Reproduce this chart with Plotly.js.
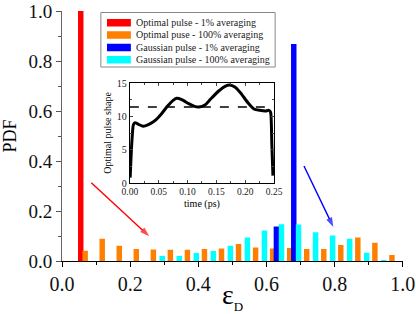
<!DOCTYPE html>
<html>
<head>
<meta charset="utf-8">
<script src="https://cdn.plot.ly/plotly-3.0.1.min.js"></script>
<style>html,body{margin:0;padding:0;background:#fff}#chart{width:416px;height:314px}</style>
</head>
<body>
<div id="chart"></div>
<script>
// ---- data ----
const optimal1X = [0.055];
const optimal1Y = [1.0];
const optimal100X = [0.068,0.118,0.168,0.218,0.268,0.318,0.368,0.418,0.468,0.518,0.568,0.618,0.668,0.718,0.768,0.818,0.868,0.918,0.968];
const optimal100Y = [0.041,0.089,0.061,0.048,0.046,0.045,0.045,0.048,0.050,0.068,0.054,0.050,0.052,0.048,0.048,0.064,0.094,0.073,0.024];
const gauss1X = [0.629,0.680];
const gauss1Y = [0.138,0.868];
const gauss100X = [0.294,0.344,0.394,0.444,0.494,0.544,0.594,0.644,0.694,0.744,0.794,0.844,0.894,0.944];
const gauss100Y = [0.020,0.020,0.032,0.040,0.061,0.094,0.122,0.147,0.146,0.115,0.102,0.089,0.033,0.004];
const seriesNames = ['Optimal pulse - 1% averaging','Optimal puse - 100% averaging','Gaussian pulse - 1% averaging','Gaussian pulse - 100% averaging'];
const seriesColors = ['#ff0000','#ff8000','#0000ff','#00ffff'];
const mainTicks = [0,0.2,0.4,0.6,0.8,1.0];
// inset: optimal pulse shape
const pulseT = [0.0005,0.003,0.006,0.009,0.015,0.023,0.033,0.044,0.055,0.065,0.075,0.081,0.09,0.102,0.112,0.12,0.13,0.14,0.154,0.165,0.173,0.182,0.192,0.205,0.215,0.225,0.235,0.241,0.244,0.246,0.248];
const pulseV = [0.8,5.5,8.7,9.05,8.8,8.5,8.8,9.4,10.4,11.5,12.4,12.7,12.5,11.9,11.5,11.4,11.7,12.6,13.8,14.5,14.7,14.4,13.5,12.0,11.1,10.9,10.8,10.9,10.6,6.0,1.1];
const gaussLevelT = [0,0.25];
const gaussLevelV = [11.4,11.4];
// arrows: tail -> head
const redArrowX = [0.086,0.256];
const redArrowY = [0.313,0.099];
const blueArrowX = [0.710,0.796];
const blueArrowY = [0.380,0.136];

const serif = 'Liberation Serif, Times New Roman, serif';
const barW = 0.016;
function arrowTrace(xs, ys, c){
  return {type:'scatter', mode:'lines+markers', x:xs, y:ys, xaxis:'x', yaxis:'y', showlegend:false,
    line:{color:c, width:1.4}, marker:{symbol:['circle','arrow'], size:[0,10], color:c, angleref:'previous', line:{width:0}}};
}
const traces = [
  {type:'bar', x:optimal1X, y:optimal1Y, name:seriesNames[0], marker:{color:seriesColors[0]}, width:barW, xaxis:'x', yaxis:'y'},
  {type:'bar', x:optimal100X, y:optimal100Y, name:seriesNames[1], marker:{color:seriesColors[1]}, width:barW, xaxis:'x', yaxis:'y'},
  {type:'bar', x:gauss1X, y:gauss1Y, name:seriesNames[2], marker:{color:seriesColors[2]}, width:barW, xaxis:'x', yaxis:'y'},
  {type:'bar', x:gauss100X, y:gauss100Y, name:seriesNames[3], marker:{color:seriesColors[3]}, width:barW, xaxis:'x', yaxis:'y'},
  arrowTrace(redArrowX, redArrowY, '#ff0000'),
  arrowTrace(blueArrowX, blueArrowY, '#0000ff'),
  {type:'scatter', mode:'lines', x:gaussLevelT, y:gaussLevelV, line:{color:'#000', width:1.5, dash:'dash'}, xaxis:'x3', yaxis:'y3', showlegend:false},
  {type:'scatter', mode:'lines', x:pulseT, y:pulseV, line:{color:'#000', width:3, shape:'spline', smoothing:0.5}, xaxis:'x3', yaxis:'y3', showlegend:false}
];

// custom legend
const L = {x0:0.114, x1:0.625, y0:0.776, y1:0.994};
const rowsY = [0.953, 0.904, 0.854, 0.805];
const shapes = [{type:'rect', xref:'paper', yref:'paper', x0:L.x0, x1:L.x1, y0:L.y0, y1:L.y1, line:{color:'#888', width:1}, fillcolor:'#fff', layer:'above'}];
const annotations = [];
seriesNames.forEach((n,i)=>{
  shapes.push({type:'rect', xref:'paper', yref:'paper', x0:0.132, x1:0.202, y0:rowsY[i]-0.015, y1:rowsY[i]+0.015, line:{width:0}, fillcolor:seriesColors[i], layer:'above'});
  annotations.push({xref:'paper', yref:'paper', x:0.211, y:rowsY[i], xanchor:'left', yanchor:'middle', text:n, showarrow:false, font:{family:serif, size:10, color:'#222'}});
});

const layout = {
  width:416, height:314,
  margin:{l:62, r:13, t:11, b:53},
  paper_bgcolor:'#fff', plot_bgcolor:'#fff',
  showlegend:false, barmode:'overlay',
  font:{family:serif, color:'#000'},
  xaxis:{range:[0,1.0005], tickvals:mainTicks, tickformat:'.1f', ticks:'outside', ticklen:5, tickcolor:'#000',
    ticklabeloverflow:'allow',
    minor:{dtick:0.1, ticks:'outside', ticklen:3, tickcolor:'#000'},
    showline:true, linecolor:'#000', linewidth:1, showgrid:false, zeroline:false,
    tickfont:{size:20, family:serif, color:'#111'},
    title:{text:'ε<span style="font-size:13px;baseline-shift:-7px">D</span>', font:{size:28, family:serif}, standoff:0}},
  yaxis:{range:[0,1.0005], tickvals:mainTicks, tickformat:'.1f', ticks:'outside', ticklen:5, tickcolor:'#555',
    ticklabeloverflow:'allow',
    minor:{dtick:0.1, ticks:'outside', ticklen:3, tickcolor:'#555'},
    showline:true, linecolor:'#666', linewidth:1, showgrid:false, zeroline:false,
    tickfont:{size:19, family:serif, color:'#111'},
    title:{text:'PDF', font:{size:18, family:serif}, standoff:8}},
  xaxis2:{overlaying:'x', side:'top', anchor:'y', range:[0,1.0005], dtick:0.1, ticks:'inside', ticklen:3, tickcolor:'#000',
    showline:true, linecolor:'#000', linewidth:1, showticklabels:false, showgrid:false, zeroline:false},
  yaxis2:{overlaying:'y', side:'right', anchor:'x', range:[0,1.0005], dtick:0.2, ticks:'inside', ticklen:5, tickcolor:'#555',
    minor:{dtick:0.1, ticks:'inside', ticklen:3, tickcolor:'#555'},
    showline:true, linecolor:'#666', linewidth:1, showticklabels:false, showgrid:false, zeroline:false},
  xaxis3:{domain:[0.199,0.622], anchor:'y3', range:[0,0.25], dtick:0.05, tickformat:'.2f', ticks:'inside', ticklen:3, mirror:'ticks',
    minor:{dtick:0.025, ticks:'inside', ticklen:2},
    showline:true, linecolor:'#000', linewidth:1, showgrid:false, zeroline:false,
    tickfont:{size:9.5, family:serif, color:'#222'},
    title:{text:'time (ps)', font:{size:10, family:serif}, standoff:3}},
  yaxis3:{domain:[0.312,0.712], anchor:'x3', range:[0,15], dtick:5, ticks:'inside', ticklen:3, mirror:'ticks',
    minor:{dtick:2.5, ticks:'inside', ticklen:2},
    showline:true, linecolor:'#000', linewidth:1, showgrid:false, zeroline:false,
    tickfont:{size:10, family:serif, color:'#222'},
    title:{text:'Optimal pulse shape', font:{size:10, family:serif}, standoff:3}},
  shapes:shapes,
  annotations:annotations
};
Plotly.newPlot('chart', traces, layout, {staticPlot:true, displayModeBar:false}).then(()=>{
  const tester = document.getElementById('js-plotly-tester');
  if (tester) tester.remove();
});
</script>
</body>
</html>
